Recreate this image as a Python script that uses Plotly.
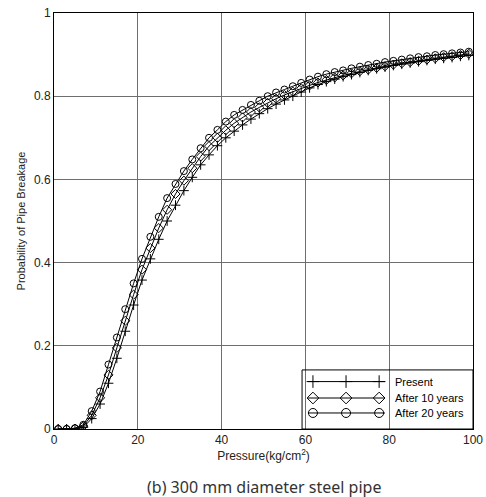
import plotly.graph_objects as go

# ---- data ----
pressure = [1, 3, 5, 7, 9, 11, 13, 15, 17, 19, 21, 23, 25, 27, 29, 31, 33, 35, 37, 39,
            41, 43, 45, 47, 49, 51, 53, 55, 57, 59, 61, 63, 65, 67, 69, 71, 73, 75, 77, 79,
            81, 83, 85, 87, 89, 91, 93, 95, 97, 99]

present = [0, 0, 0, 0.004, 0.025, 0.06, 0.11, 0.17, 0.235, 0.298, 0.358, 0.409, 0.456, 0.50, 0.538,
           0.573, 0.605, 0.635, 0.659, 0.681, 0.70, 0.716, 0.731, 0.745, 0.758, 0.77, 0.781, 0.791,
           0.80, 0.81, 0.82, 0.828, 0.835, 0.841, 0.847, 0.852, 0.857, 0.862, 0.866, 0.870, 0.874,
           0.877, 0.880, 0.883, 0.886, 0.889, 0.891, 0.893, 0.896, 0.898]

after10 = [0, 0, 0.001, 0.007, 0.033, 0.075, 0.13, 0.195, 0.26, 0.323, 0.383, 0.435, 0.483, 0.527,
           0.565, 0.597, 0.627, 0.655, 0.68, 0.70, 0.718, 0.735, 0.749, 0.762, 0.773, 0.784, 0.794,
           0.803, 0.811, 0.819, 0.826, 0.833, 0.839, 0.845, 0.85, 0.855, 0.86, 0.864, 0.868, 0.872,
           0.876, 0.879, 0.882, 0.885, 0.888, 0.891, 0.894, 0.896, 0.899, 0.902]

after20 = [0, 0, 0.002, 0.01, 0.043, 0.09, 0.155, 0.22, 0.288, 0.35, 0.409, 0.462, 0.51, 0.555,
           0.589, 0.62, 0.648, 0.675, 0.70, 0.719, 0.739, 0.755, 0.767, 0.779, 0.789, 0.80, 0.809,
           0.816, 0.824, 0.832, 0.84, 0.847, 0.853, 0.858, 0.862, 0.867, 0.871, 0.875, 0.878, 0.882,
           0.885, 0.888, 0.891, 0.894, 0.896, 0.899, 0.901, 0.903, 0.905, 0.907]

series_names = ["Present", "After 10 years", "After 20 years"]
x_ticks = [0, 20, 40, 60, 80, 100]
y_ticks = [0, 0.2, 0.4, 0.6, 0.8, 1]

symbols = ["cross-thin", "diamond-open", "circle-open"]
series = [present, after10, after20]

fig = go.Figure()
for name, ys, sym in zip(series_names, series, symbols):
    fig.add_trace(go.Scatter(
        x=pressure, y=ys, mode="lines+markers", name=name, showlegend=False,
        line=dict(color="black", width=1),
        marker=dict(symbol=sym, size=7, color="black", line=dict(color="black", width=1)),
    ))

# custom legend drawn on an overlay axis (fractions of the plot area)
leg_rows = [0.114, 0.0745, 0.0385]
leg_mark_x = [0.618, 0.697, 0.776]
for name, sym, ry in zip(series_names, symbols, leg_rows):
    fig.add_trace(go.Scatter(
        x=[0.606, 0.79], y=[ry, ry], mode="lines", xaxis="x2", yaxis="y2",
        line=dict(color="black", width=1), showlegend=False, hoverinfo="skip"))
    fig.add_trace(go.Scatter(
        x=leg_mark_x, y=[ry] * 3, mode="markers", xaxis="x2", yaxis="y2",
        marker=dict(symbol=sym, size=9, color="black", line=dict(color="black", width=1)),
        showlegend=False, hoverinfo="skip"))
    fig.add_annotation(x=0.809, y=ry, xref="x2", yref="y2", text=name, showarrow=False,
                       xanchor="left", yanchor="middle",
                       font=dict(family="Liberation Sans, Arial", size=11, color="black"))

fig.add_shape(type="rect", xref="paper", yref="paper", x0=0.592, x1=1.0, y0=0.0, y1=0.142,
              line=dict(color="black", width=1), fillcolor="rgba(0,0,0,0)")

fig.update_layout(
    width=486, height=497,
    margin=dict(l=54, r=13, t=13, b=68),
    paper_bgcolor="white", plot_bgcolor="white",
    font=dict(family="Liberation Sans, Arial", size=12, color="#222"),
    xaxis=dict(range=[0, 100], tickvals=x_ticks, showgrid=True, gridcolor="#6e6e6e", gridwidth=1,
               zeroline=False, showline=True, linecolor="black", linewidth=1, mirror=True,
               ticks="", tickfont=dict(size=12), automargin=False,
               title=dict(text="Pressure(kg/cm<sup>2</sup>)", font=dict(size=12, color="#222"),
                          standoff=0)),
    yaxis=dict(range=[0, 1], tickvals=y_ticks, showgrid=True, gridcolor="#6e6e6e", gridwidth=1,
               zeroline=False, showline=True, linecolor="black", linewidth=1, mirror=True,
               ticks="", tickfont=dict(size=12), automargin=False,
               title=dict(text="Probability of Pipe Breakage", font=dict(size=11, color="#222"),
                          standoff=6)),
    xaxis2=dict(range=[0, 1], overlaying="x", anchor="y2", visible=False, fixedrange=True),
    yaxis2=dict(range=[0, 1], overlaying="y", anchor="x2", visible=False, fixedrange=True),
)

fig.add_annotation(x=0.5, y=-0.108, xref="paper", yref="paper", xanchor="center", yanchor="top",
                   text="(b) 300 mm diameter steel pipe", showarrow=False,
                   font=dict(family="Noto Sans", size=16, color="#333"))

fig.write_html("out.html", config={"displayModeBar": False},
               post_script="document.body.style.margin='0px';document.body.style.overflow='hidden';")
